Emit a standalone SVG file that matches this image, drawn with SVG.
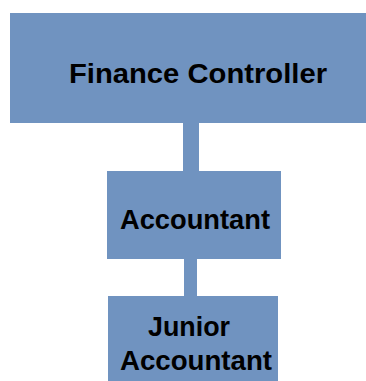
<svg xmlns="http://www.w3.org/2000/svg" width="366" height="381" viewBox="0 0 366 381">
<style>
.box{fill:#7093C0;}
.conn{fill:#7093C0;}
.lbl{font-family:"Liberation Sans",Arial,sans-serif;font-weight:bold;font-size:28px;fill:#000;}
</style>
<rect width="366" height="381" fill="#fff"/>
<g id="connectors">
<rect class="conn" x="183" y="122" width="16" height="50"/>
<rect class="conn" x="184" y="258" width="13" height="39"/>
</g>
<g id="finance-controller">
<rect class="box" x="10" y="13" width="356" height="110"/>
<text class="lbl" x="69" y="83" textLength="258" lengthAdjust="spacingAndGlyphs">Finance Controller</text>
</g>
<g id="accountant">
<rect class="box" x="107" y="171" width="174" height="88"/>
<text class="lbl" x="120" y="229" textLength="150" lengthAdjust="spacingAndGlyphs">Accountant</text>
</g>
<g id="junior-accountant">
<rect class="box" x="108" y="296" width="170" height="85"/>
<text class="lbl" x="148" y="336" textLength="82" lengthAdjust="spacingAndGlyphs">Junior</text>
<text class="lbl" x="120" y="370" textLength="152" lengthAdjust="spacingAndGlyphs">Accountant</text>
</g>
</svg>
